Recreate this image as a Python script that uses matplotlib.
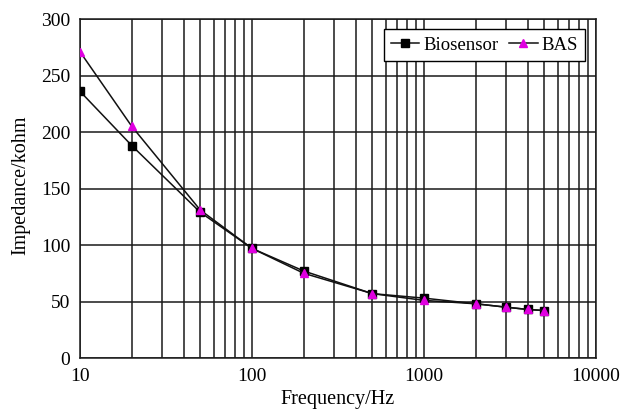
import matplotlib
matplotlib.use("Agg")
import matplotlib.pyplot as plt
from matplotlib.ticker import LogLocator, NullFormatter

plt.rcParams['font.family'] = ['Liberation Serif', 'DejaVu Serif']

freq = [10, 20, 50, 100, 200, 500, 1000, 2000, 3000, 4000, 5000]
biosensor = [236, 188, 129, 97, 77, 57, 53, 48, 45, 43, 42]
bas = [271, 205, 131, 97, 75, 57, 51, 48, 45, 43, 42]
xticks = [10, 100, 1000, 10000]
xticklabels = ['10', '100', '1000', '10000']
yticks = [0, 50, 100, 150, 200, 250, 300]

fig = plt.figure(figsize=(6.35, 4.12), dpi=100)
ax = fig.add_axes([0.126, 0.131, 0.8126, 0.8228])

ax.plot(freq, biosensor, color='#111111', lw=1.1, marker='s', ms=5.5,
        mfc='black', mec='black', label='Biosensor', zorder=3)
ax.plot(freq, bas, color='#111111', lw=1.1, marker='^', ms=5.5,
        mfc='#e000e0', mec='#e000e0', label='BAS', zorder=4)

ax.set_xscale('log')
ax.set_xlim(10, 10000)
ax.set_ylim(0, 300)
ax.set_xticks(xticks)
ax.set_xticklabels(xticklabels)
ax.xaxis.set_minor_locator(LogLocator(base=10, subs=range(2, 10)))
ax.xaxis.set_minor_formatter(NullFormatter())
ax.set_yticks(yticks)
ax.grid(True, which='major', axis='both', color='#1a1a1a', lw=1.1)
ax.grid(True, which='minor', axis='x', color='#1a1a1a', lw=1.1)
ax.tick_params(which='both', length=0, labelsize=14, pad=7)
for s in ax.spines.values():
    s.set_color('#1a1a1a')
    s.set_linewidth(1.1)

ax.set_xlabel('Frequency/Hz', fontsize=14.5, labelpad=4)
ax.set_ylabel('Impedance/kohm', fontsize=14.5)
ax.yaxis.set_label_coords(-0.097, 0.51)

leg = ax.legend(loc='upper right', ncol=2, fontsize=13.5, frameon=True,
                fancybox=False, edgecolor='black', framealpha=1,
                handlelength=1.5, handletextpad=0.2, columnspacing=0.6,
                borderpad=0.4, borderaxespad=0,
                bbox_to_anchor=(0.979, 0.9705))
leg.get_frame().set_linewidth(1.0)

fig.savefig('out.png', dpi=100)
